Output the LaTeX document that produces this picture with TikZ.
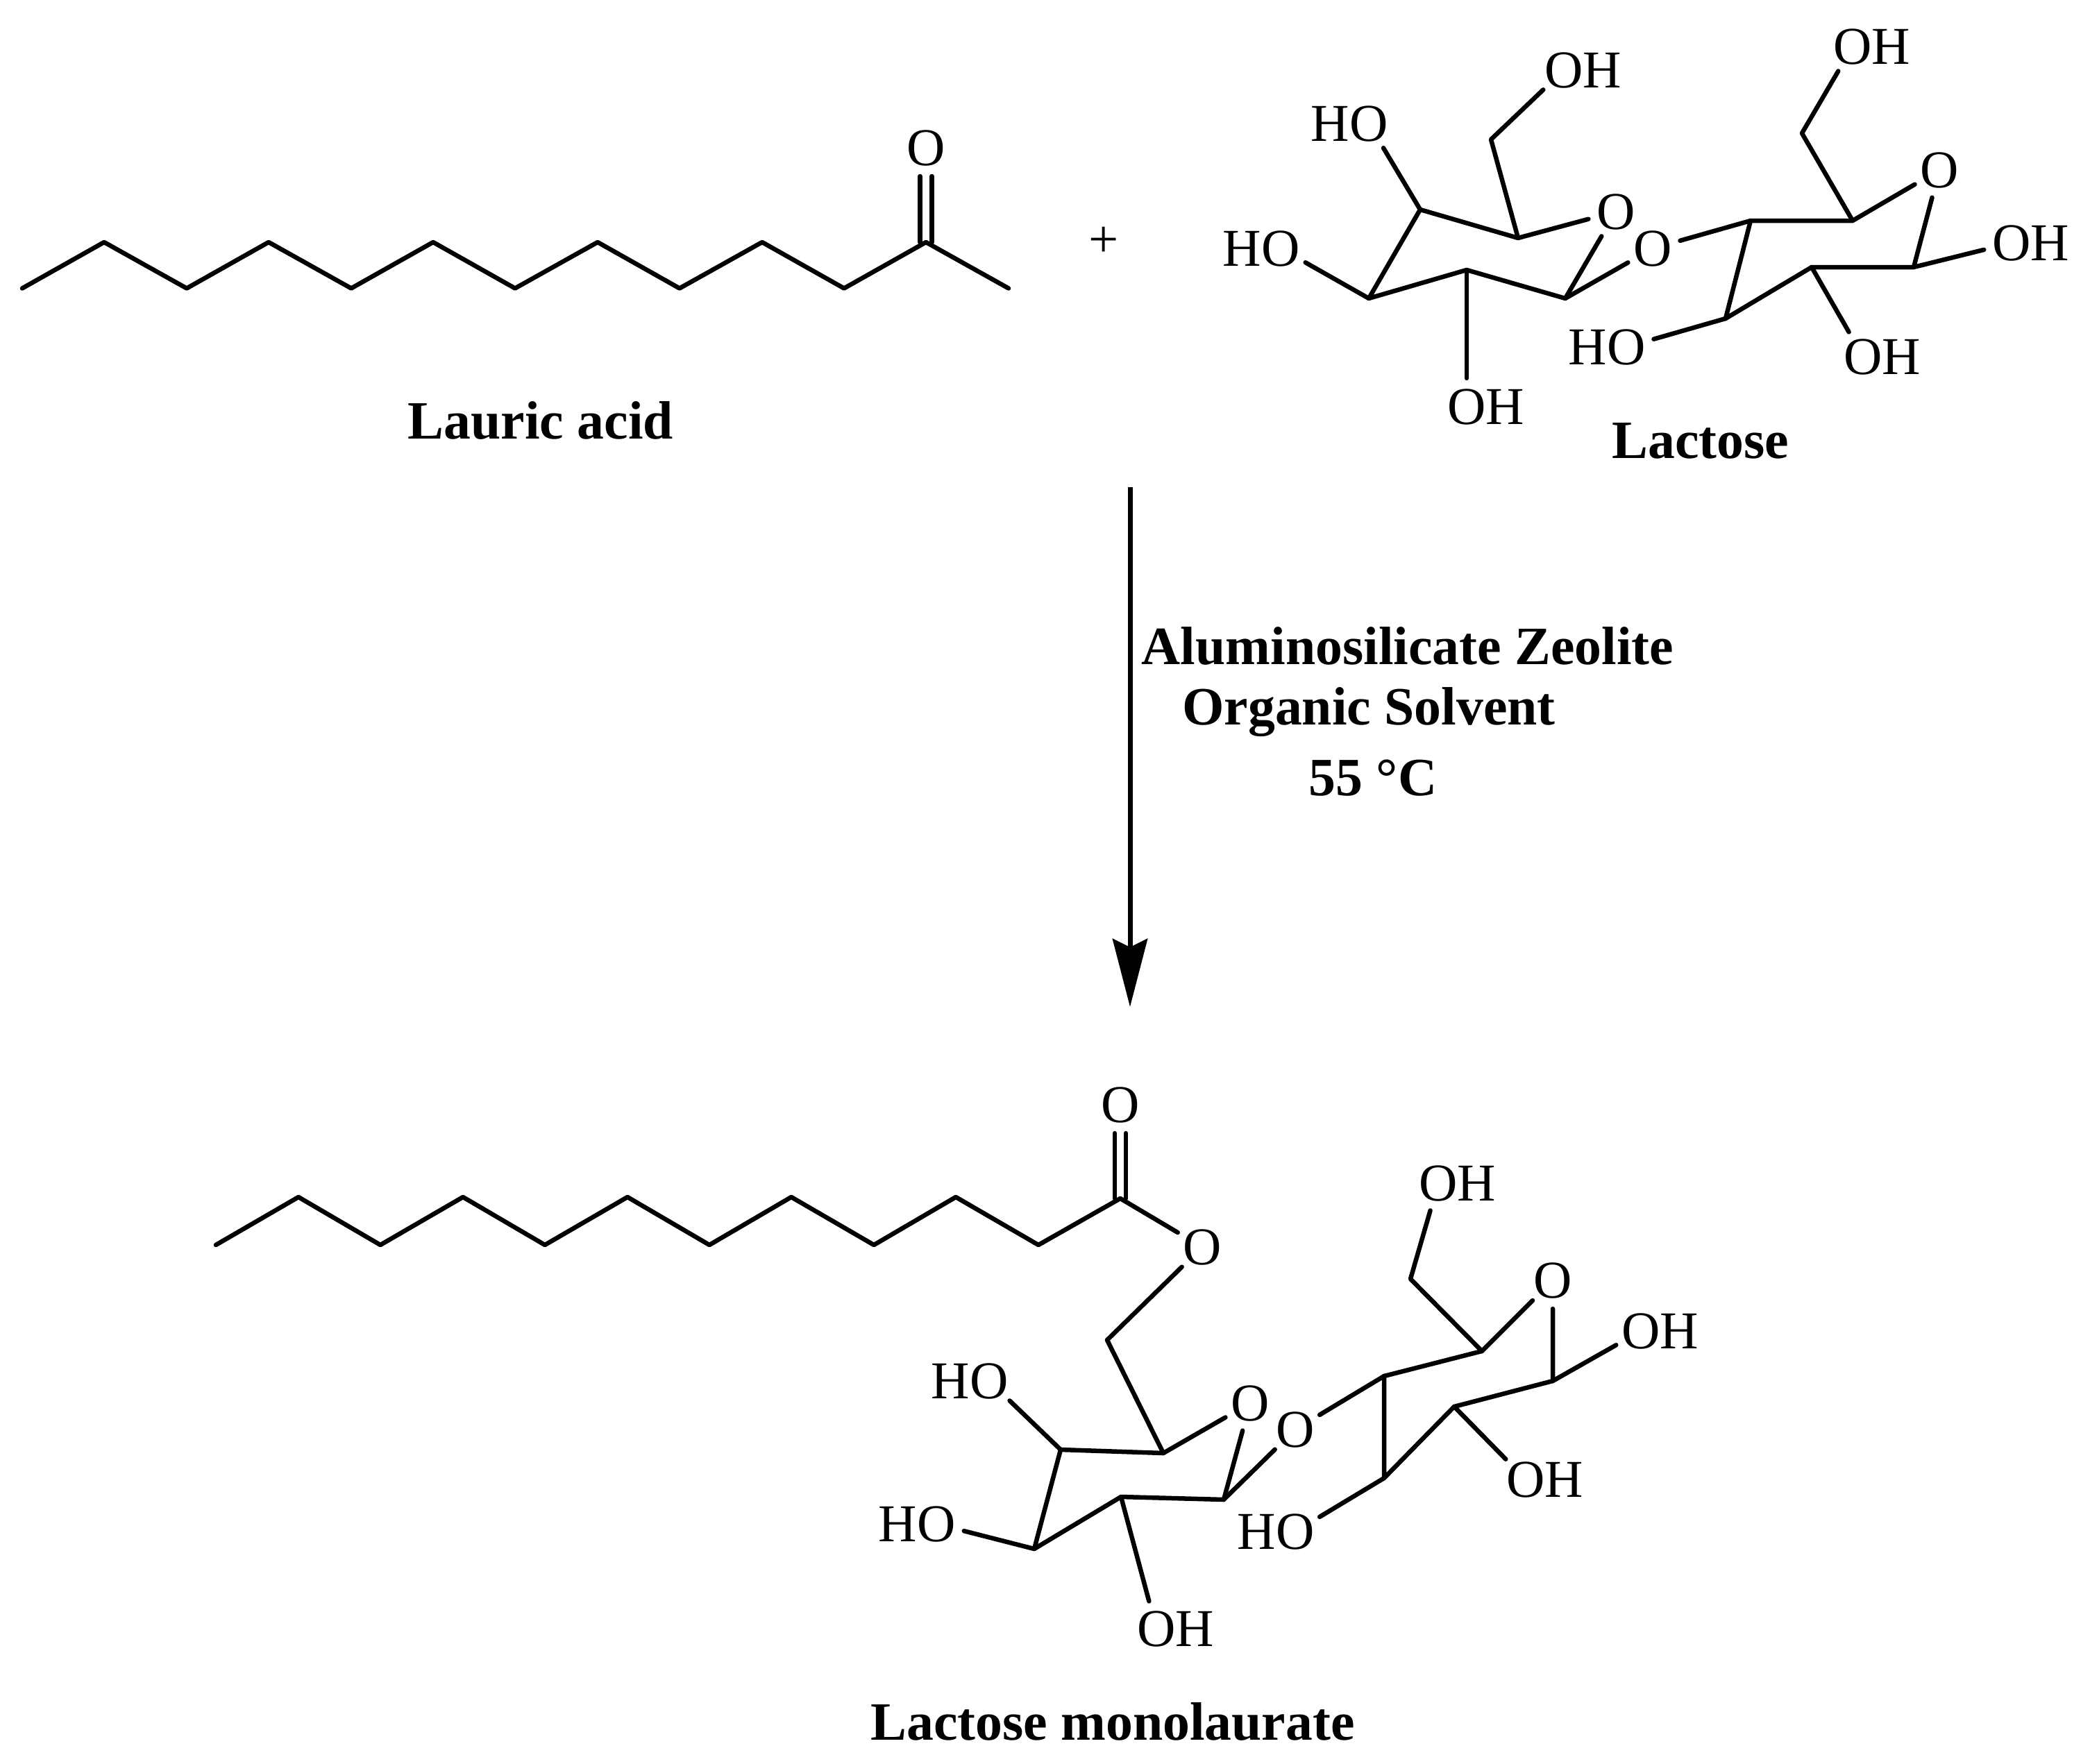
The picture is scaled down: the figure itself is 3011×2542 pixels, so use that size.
\documentclass[tikz,border=0pt]{standalone}
\usepackage{fontspec}
\setmainfont{Liberation Serif}
\usetikzlibrary{arrows.meta}

\newcommand{\atomfont}{\fontsize{21.8pt}{24pt}\selectfont}
\newcommand{\namefont}{\fontsize{22.1pt}{26pt}\selectfont\bfseries}
\newcommand{\OHtext}{\makebox[0pt]{\hphantom{H}OH}}
\newcommand{\HOtext}{\makebox[0pt]{HO\hphantom{H}}}

\tikzset{
	bond/.style={line width=0.065cm,line cap=round,line join=round},
	atom/.style={circle,inner sep=0pt,outer sep=0pt,minimum size=0.82cm,font=\atomfont},
	caption/.style={anchor=base,inner sep=0pt,font=\namefont},
}

\begin{document}
\begin{tikzpicture}[x=0.01cm,y=-0.01cm]
	\useasboundingbox (0,0) rectangle (3011,2542);

	% lauric acid
	\coordinate (a0) at (32,415.5);
	\coordinate (a1) at (150,349);
	\coordinate (a2) at (269,415.5);
	\coordinate (a3) at (387,349);
	\coordinate (a4) at (506,415.5);
	\coordinate (a5) at (624,349);
	\coordinate (a6) at (742,415.5);
	\coordinate (a7) at (861,349);
	\coordinate (a8) at (979,415.5);
	\coordinate (a9) at (1098,349);
	\coordinate (a10) at (1216,415.5);
	\coordinate (a11) at (1334,349);
	\coordinate (a12) at (1453,415.5);
	\node[atom] (acidO) at (1334,213) {O};
	\draw[bond] (a0) -- (a1) -- (a2) -- (a3) -- (a4) -- (a5) -- (a6) -- (a7) -- (a8) -- (a9) -- (a10) -- (a11) -- (a12);
	\draw[bond] ([xshift=-0.085cm]a11) -- ([xshift=-0.085cm]acidO.south);
	\draw[bond] ([xshift=0.085cm]a11) -- ([xshift=0.085cm]acidO.south);
	\node[caption] (acidname) at (779,632) {Lauric acid};

	\node[atom] (plus) at (1590,349) {+};

	% lactose
	\coordinate (la) at (2046,302);
	\coordinate (lb) at (2187,343);
	\coordinate (lc) at (2255,430);
	\coordinate (ld) at (2113,389);
	\coordinate (le) at (1972,430);
	\coordinate (lf) at (2148,201);
	\coordinate (ra) at (2522,318);
	\coordinate (rb) at (2669,318);
	\coordinate (rc) at (2757,385);
	\coordinate (rd) at (2610,385);
	\coordinate (re) at (2486,459);
	\coordinate (rf) at (2596,192);
	\node[atom] (lO) at (2328,305) {O};
	\node[atom] (bridgeO) at (2381,358) {O};
	\node[atom] (rO) at (2794,245) {O};
	\node[atom] (oh1) at (2253,101) {\OHtext};
	\node[atom] (oh2) at (1972,178) {\HOtext};
	\node[atom] (oh3) at (1845,358) {\HOtext};
	\node[atom] (oh4) at (2113,586) {\OHtext};
	\node[atom] (oh5) at (2669,67) {\OHtext};
	\node[atom] (oh6) at (2898,350) {\OHtext};
	\node[atom] (oh7) at (2684,514) {\OHtext};
	\node[atom] (oh8) at (2343,500) {\HOtext};
	\draw[bond] (la) -- (lb) -- (lO);
	\draw[bond] (lO) -- (lc) -- (ld) -- (le) -- (la);
	\draw[bond] (lb) -- (lf) -- (oh1);
	\draw[bond] (la) -- (oh2);
	\draw[bond] (le) -- (oh3);
	\draw[bond] (ld) -- (oh4);
	\draw[bond] (lc) -- (bridgeO);
	\draw[bond] (bridgeO) -- (ra);
	\draw[bond] (ra) -- (rb) -- (rO);
	\draw[bond] (rO) -- (rc) -- (rd) -- (re) -- (ra);
	\draw[bond] (rb) -- (rf) -- (oh5);
	\draw[bond] (rc) -- (oh6);
	\draw[bond] (rd) -- (oh7);
	\draw[bond] (re) -- (oh8);
	\node[caption] (lactosename) at (2450,660) {Lactose};

	% reaction arrow
	\coordinate (arrowtop) at (1628,702);
	\coordinate (arrowtip) at (1628,1451);
	\draw[line width=0.07cm,-{Stealth[length=0.98cm,width=0.5cm,inset=0.12cm]}] (arrowtop) -- (arrowtip);
	\node[caption] (cond1) at (2028,957) {Aluminosilicate Zeolite};
	\node[caption] (cond2) at (1972,1044) {Organic Solvent};
	\node[caption] (cond3) at (1978,1146) {55 °C};

	% lactose monolaurate
	\coordinate (d0) at (311,1794);
	\coordinate (d1) at (430,1725);
	\coordinate (d2) at (548,1794);
	\coordinate (d3) at (667,1725);
	\coordinate (d4) at (785,1794);
	\coordinate (d5) at (904,1725);
	\coordinate (d6) at (1022,1794);
	\coordinate (d7) at (1140,1725);
	\coordinate (d8) at (1259,1794);
	\coordinate (d9) at (1377,1725);
	\coordinate (d10) at (1496,1794);
	\coordinate (d11) at (1614,1727);
	\node[atom] (esterO) at (1614,1592) {O};
	\node[atom] (linkO) at (1732,1797) {O};
	\draw[bond] (d0) -- (d1) -- (d2) -- (d3) -- (d4) -- (d5) -- (d6) -- (d7) -- (d8) -- (d9) -- (d10) -- (d11) -- (linkO);
	\draw[bond] ([xshift=-0.08cm]d11) -- ([xshift=-0.08cm]esterO.south);
	\draw[bond] ([xshift=0.08cm]d11) -- ([xshift=0.08cm]esterO.south);
	\coordinate (ma) at (1528,2089);
	\coordinate (mb) at (1676,2094);
	\coordinate (mc) at (1763,2161);
	\coordinate (md) at (1615,2157);
	\coordinate (me) at (1490,2232);
	\coordinate (mf) at (1595,1931);
	\coordinate (na) at (1994,1983);
	\coordinate (nb) at (2135,1947);
	\coordinate (nc) at (2237,1990);
	\coordinate (nd) at (2095,2027);
	\coordinate (ne) at (1994,2130);
	\coordinate (nf) at (2032,1843);
	\node[atom] (mO) at (1801,2022) {O};
	\node[atom] (mbridgeO) at (1866,2060) {O};
	\node[atom] (nO) at (2237,1845) {O};
	\node[atom] (mh1) at (1425,1990) {\HOtext};
	\node[atom] (mh2) at (1349,2196) {\HOtext};
	\node[atom] (mh3) at (1666,2347) {\OHtext};
	\node[atom] (mh4) at (2072,1705) {\OHtext};
	\node[atom] (mh5) at (2364,1918) {\OHtext};
	\node[atom] (mh6) at (2198,2132) {\OHtext};
	\node[atom] (mh7) at (1866,2207) {\HOtext};
	\draw[bond] (linkO) -- (mf) -- (mb);
	\draw[bond] (ma) -- (mb) -- (mO);
	\draw[bond] (mO) -- (mc) -- (md) -- (me) -- (ma);
	\draw[bond] (ma) -- (mh1);
	\draw[bond] (me) -- (mh2);
	\draw[bond] (md) -- (mh3);
	\draw[bond] (mc) -- (mbridgeO);
	\draw[bond] (mbridgeO) -- (na);
	\draw[bond] (na) -- (nb) -- (nO);
	\draw[bond] (nO) -- (nc) -- (nd) -- (ne) -- (na);
	\draw[bond] (nb) -- (nf) -- (mh4);
	\draw[bond] (nc) -- (mh5);
	\draw[bond] (nd) -- (mh6);
	\draw[bond] (ne) -- (mh7);
	\node[caption] (productname) at (1603,2507) {Lactose monolaurate};
\end{tikzpicture}
\end{document}
